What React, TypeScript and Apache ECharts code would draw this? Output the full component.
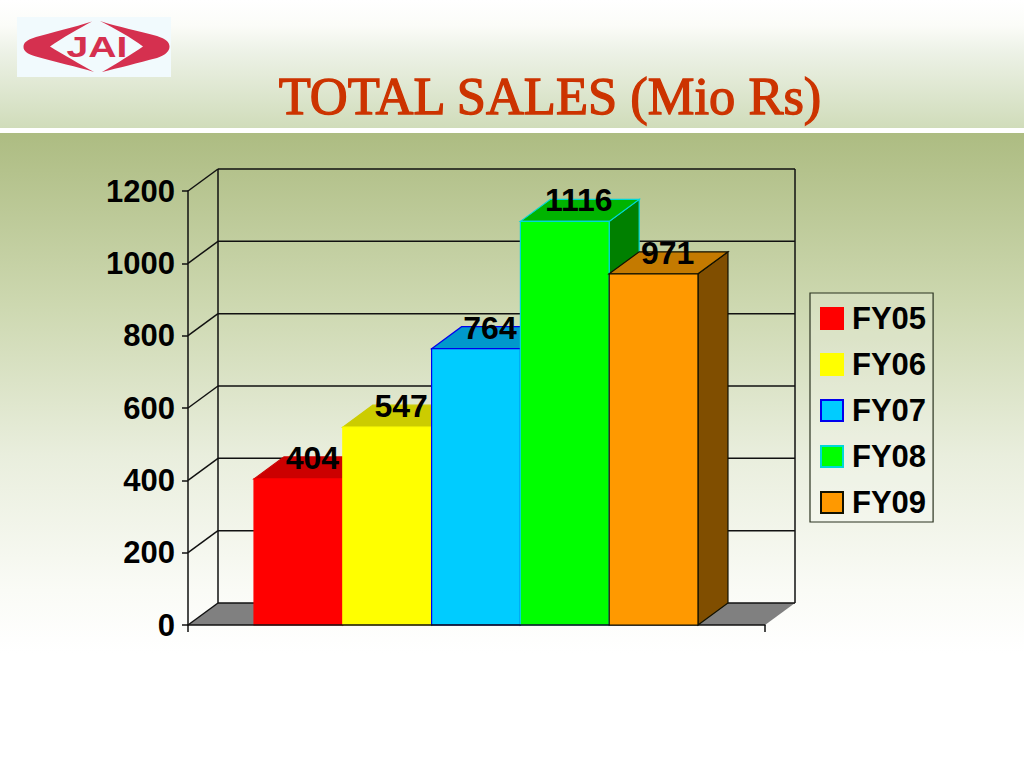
import React, { useEffect, useRef } from "react";
import * as echarts from "echarts";

const fiscalYears = ["FY05", "FY06", "FY07", "FY08", "FY09"];
const salesValues = [404, 547, 764, 1116, 971];
const frontColors = ["#ff0000", "#ffff00", "#00ccff", "#00ff00", "#ff9900"];
const topColors = ["#cc0000", "#cccc00", "#0099cc", "#00b400", "#c47a00"];
const sideColors = ["#800000", "#808000", "#006680", "#008000", "#804e00"];
const borderColors = ["#ff0000", "#ffff00", "#0000ee", "#00d8d8", "#111100"];
const yTicks = [0, 200, 400, 600, 800, 1000, 1200];

const DEPTH_X = 30;
const DEPTH_Y = -22;
const LINE = "#111111";
const FONT = '"Liberation Sans", Arial, sans-serif';

const leftWing =
  "M92 21.5 C75 27 50 33 36 37 C26 40 23.5 43 23.5 47 C23.5 51 27 54 36 56.5 C55 62 78 67 94 72 C80 64 62 54 50 46.5 C62 38 80 28 92 21.5 Z";
const rightWing =
  "M100 21 C118 27 140 31 157 36 C166 39 169.5 42 169.5 46.5 C169.5 51 166 55 157 58 C138 63 118 68 102 72 C116 64 132 54 143 46.5 C132 38 114 28 100 21 Z";
echarts.graphic.registerShape("logoLeft", echarts.graphic.extendPath(leftWing, {}));
echarts.graphic.registerShape("logoRight", echarts.graphic.extendPath(rightWing, {}));

const renderFrame = (params: any, api: any) => {
  const cs = params.coordSys;
  const y = api.coord([0, api.value(0)])[1];
  const x0 = cs.x;
  const x1 = cs.x + cs.width;
  const lineStyle = { stroke: LINE, lineWidth: 1.5, fill: "none" };
  const children: any[] = [
    {
      type: "line",
      shape: { x1: x0 + DEPTH_X, y1: y + DEPTH_Y, x2: x1 + DEPTH_X, y2: y + DEPTH_Y },
      style: lineStyle,
    },
    {
      type: "line",
      shape: { x1: x0, y1: y, x2: x0 + DEPTH_X, y2: y + DEPTH_Y },
      style: lineStyle,
    },
  ];
  if (params.dataIndex === 0) {
    const bottom = y;
    const top = cs.y;
    children.unshift({
      type: "polygon",
      shape: {
        points: [
          [x0, bottom],
          [x0 + DEPTH_X, bottom + DEPTH_Y],
          [x1 + DEPTH_X, bottom + DEPTH_Y],
          [x1, bottom],
        ],
      },
      style: { fill: "#808080" },
    });
    children.push(
      {
        type: "line",
        shape: { x1: x0 + DEPTH_X, y1: top + DEPTH_Y, x2: x0 + DEPTH_X, y2: bottom + DEPTH_Y },
        style: lineStyle,
      },
      {
        type: "line",
        shape: { x1: x1 + DEPTH_X, y1: top + DEPTH_Y, x2: x1 + DEPTH_X, y2: bottom + DEPTH_Y },
        style: lineStyle,
      }
    );
  }
  return { type: "group", children };
};

const makeBarRenderer = (index: number) => (params: any, api: any) => {
  const cs = params.coordSys;
  const gap = cs.width * 0.1153;
  const w = (cs.width - 2 * gap) / fiscalYears.length;
  const x0 = cs.x + gap + index * w - 0.5;
  const x1 = x0 + w;
  const value = api.value(1);
  const yTop = api.coord([0, value])[1];
  const yBase = api.coord([0, 0])[1];
  const b = borderColors[index];
  const soft = index < 2;
  return {
    type: "group",
    children: [
      {
        type: "polygon",
        shape: {
          points: [
            [x1, yTop],
            [x1 + DEPTH_X, yTop + DEPTH_Y],
            [x1 + DEPTH_X, yBase + DEPTH_Y],
            [x1, yBase],
          ],
        },
        style: { fill: sideColors[index], stroke: soft ? sideColors[index] : b, lineWidth: 1.2 },
      },
      {
        type: "polygon",
        shape: {
          points: [
            [x0, yTop],
            [x0 + DEPTH_X, yTop + DEPTH_Y],
            [x1 + DEPTH_X, yTop + DEPTH_Y],
            [x1, yTop],
          ],
        },
        style: { fill: topColors[index], stroke: soft ? topColors[index] : b, lineWidth: 1.2 },
      },
      {
        type: "rect",
        shape: { x: x0, y: yTop, width: w, height: yBase - yTop },
        style: { fill: frontColors[index], stroke: b, lineWidth: 1.2 },
      },
      {
        type: "text",
        z2: 50,
        style: {
          text: String(value),
          x: (x0 + x1) / 2 + 14,
          y: yTop - 21,
          align: "center",
          verticalAlign: "middle",
          fill: "#000000",
          font: `bold 32px ${FONT}`,
        },
      },
    ],
  };
};

export default function App() {
  const ref = useRef<HTMLDivElement>(null);
  useEffect(() => {
    document.body.style.margin = "0";
    const chart = echarts.init(ref.current!, undefined, { renderer: "svg" });
    chart.setOption({
      animation: false,
      title: {
        text: "TOTAL SALES (Mio Rs)",
        left: 545,
        top: 64,
        textAlign: "center",
        textStyle: {
          color: "#cc3300",
          fontFamily: '"Liberation Serif", "Times New Roman", serif',
          fontWeight: "normal",
          fontSize: 52.5,
          textBorderColor: "#cc3300",
          textBorderWidth: 1.3,
        },
      },
      graphic: [
        {
          type: "rect",
          z: -100,
          shape: { x: 0, y: 0, width: 1024, height: 128 },
          style: {
            fill: new echarts.graphic.LinearGradient(0, 0, 0, 1, [
              { offset: 0, color: "#ffffff" },
              { offset: 0.2, color: "#fbfcf8" },
              { offset: 0.4, color: "#edf2e7" },
              { offset: 1, color: "#d0dcba" },
            ]),
          },
        },
        {
          type: "rect",
          z: -100,
          shape: { x: 0, y: 133, width: 1024, height: 520 },
          style: {
            fill: new echarts.graphic.LinearGradient(0, 0, 0, 1, [
              { offset: 0, color: "#adbc82" },
              { offset: 0.33, color: "#cdd8b0" },
              { offset: 0.62, color: "#e9eedd" },
              { offset: 0.88, color: "#fafbf6" },
              { offset: 1, color: "#ffffff" },
            ]),
          },
        },
        {
          type: "rect",
          z: -90,
          shape: { x: 17, y: 17, width: 154, height: 60 },
          style: { fill: "#f1fafd" },
        },
        { type: "logoLeft", z: -80, style: { fill: "#d5304f" } },
        { type: "logoRight", z: -80, style: { fill: "#d5304f" } },
        {
          type: "text",
          z: -80,
          x: 97,
          y: 47,
          scaleX: 1.35,
          style: {
            text: "JAI",
            x: 0,
            y: 0,
            align: "center",
            verticalAlign: "middle",
            fill: "#d5304f",
            font: `bold 29px ${FONT}`,
          },
        },
      ],
      grid: { left: 188, top: 191, width: 577, height: 434, containLabel: false },
      xAxis: {
        type: "category",
        data: [""],
        z: 5,
        axisLine: { lineStyle: { color: LINE, width: 1.5 } },
        axisTick: { show: true, length: 7, alignWithLabel: false, lineStyle: { color: LINE, width: 1.5 } },
        axisLabel: { show: false },
        splitLine: { show: false },
      },
      yAxis: {
        type: "value",
        min: 0,
        max: 1200,
        interval: 200,
        z: 5,
        axisLine: { show: true, lineStyle: { color: LINE, width: 1.5 } },
        axisTick: { show: true, length: 6, lineStyle: { color: LINE, width: 1.5 } },
        axisLabel: {
          color: "#000000",
          fontFamily: FONT,
          fontWeight: "bold",
          fontSize: 31,
          margin: 13,
          formatter: (v: number) => String(v),
        },
        splitLine: { show: false },
      },
      legend: {
        show: true,
        data: fiscalYears,
        left: 810,
        top: 293,
        orient: "vertical",
        selectedMode: false,
        backgroundColor: "rgba(255,255,255,0.2)",
        borderColor: "#2b3320",
        borderWidth: 1.2,
        borderRadius: 0,
        padding: [8, 7, 2, 10],
        itemWidth: 22,
        itemHeight: 21,
        itemGap: 11,
        icon: "rect",
        textStyle: {
          color: "#000000",
          fontFamily: FONT,
          fontWeight: "bold",
          fontSize: 31,
          lineHeight: 35,
          padding: [0, 0, 0, 4],
        },
      },
      series: [
        {
          type: "custom",
          name: "frame",
          z: 1,
          silent: true,
          coordinateSystem: "cartesian2d",
          encode: { y: 0 },
          renderItem: renderFrame,
          data: yTicks.map((t) => [t]),
        },
        ...fiscalYears.map((name, i) => ({
          type: "custom",
          name,
          z: 2 + i,
          coordinateSystem: "cartesian2d",
          encode: { x: 0, y: 1 },
          itemStyle: { color: frontColors[i], borderColor: borderColors[i], borderWidth: 1.5 },
          renderItem: makeBarRenderer(i),
          data: [[0, salesValues[i]]],
        })),
      ],
    });
    return () => chart.dispose();
  }, []);
  return <div ref={ref} style={{ width: 1024, height: 768 }} />;
}
